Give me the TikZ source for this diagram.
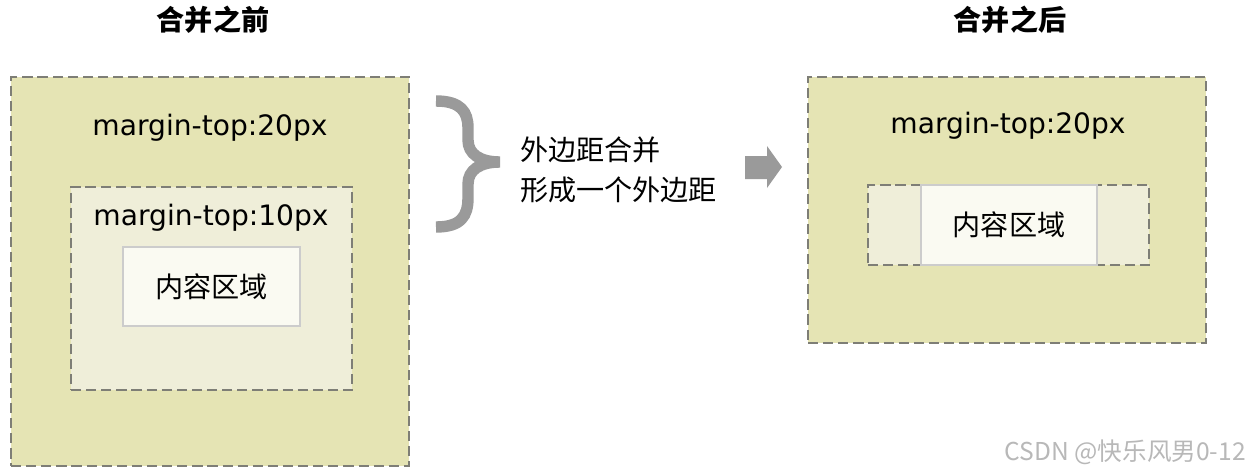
\documentclass[tikz,border=0pt]{standalone}
\usepackage{fontspec}
\setmainfont{DejaVu Sans}
\newfontfamily\cjk{Noto Sans CJK SC}
\usetikzlibrary{fit}

\definecolor{outerfill}{HTML}{E5E4B4}
\definecolor{innerfill}{HTML}{EFEED9}
\definecolor{contentfill}{HTML}{FAFAF2}
\definecolor{dashgray}{HTML}{7E7E76}
\definecolor{bracegray}{HTML}{9A9A9A}

\begin{document}
\begin{tikzpicture}[
  x=0.02cm, y=-0.02cm,
  marginbox/.style={draw=dashgray,line width=1.4pt,dash pattern=on 5.8pt off 2.8pt,inner sep=0pt},
  outerbox/.style={marginbox,fill=outerfill},
  innerbox/.style={marginbox,fill=innerfill},
  contentbox/.style={draw=black!20,line width=1pt,fill=contentfill,inner sep=0pt},
  label/.style={font=\fontsize{16}{19}\selectfont},
  cjklabel/.style={font=\cjk\fontsize{16}{19}\selectfont},
  title/.style={font=\cjk\bfseries\fontsize{16}{19}\selectfont}
]
  \useasboundingbox (0,0) rectangle (1255,474);

  % before
  \node[title] (t1) at (213,20) {合并之前};
  \node[outerbox,fit={(11,77) (409,466)}] (o1) {};
  \node[label] (m1) at (210,128) {margin-top:20px};
  \node[innerbox,fit={(71,187) (352,390)}] (i1) {};
  \node[label] (m2) at (211,218) {margin-top:10px};
  \node[contentbox,fit={(123,247) (300,326)}] (c1) {};
  \node[cjklabel] (k1) at (c1.center) {内容区域};

  % brace and note
  \draw[bracegray,line width=6.5pt] (436,101) .. controls (461,101) and (468,112) .. (468,128)
    -- (468,140) .. controls (468,154) and (480,162) .. (500,162)
    .. controls (480,162) and (468,170) .. (468,184)
    -- (468,198) .. controls (468,216) and (461,227) .. (436,227);
  \node[cjklabel,anchor=west,align=left,font=\cjk\fontsize{16}{22.8}\selectfont] (n1) at (514,170) {外边距合并\\形成一个外边距};
  \fill[bracegray] (745,156) -- (767,156) -- (767,146) -- (782,167) -- (767,188) -- (767,179) -- (745,179) -- cycle;

  % after
  \node[title] (t2) at (1010,20) {合并之后};
  \node[outerbox,fit={(808,77) (1206,343)}] (o2) {};
  \node[label] (m3) at (1008,126) {margin-top:20px};
  \node[innerbox,fit={(868,185) (1149,265)}] (i2) {};
  \node[contentbox,fit={(921,185) (1097,265)}] (c2) {};
  \node[cjklabel] (k2) at (c2.center) {内容区域};

  \node[anchor=east,text=black!28,font=\cjk\fontsize{14}{16}\selectfont] (w) at (1252,452) {CSDN @快乐风男0-12};
\end{tikzpicture}
\end{document}
